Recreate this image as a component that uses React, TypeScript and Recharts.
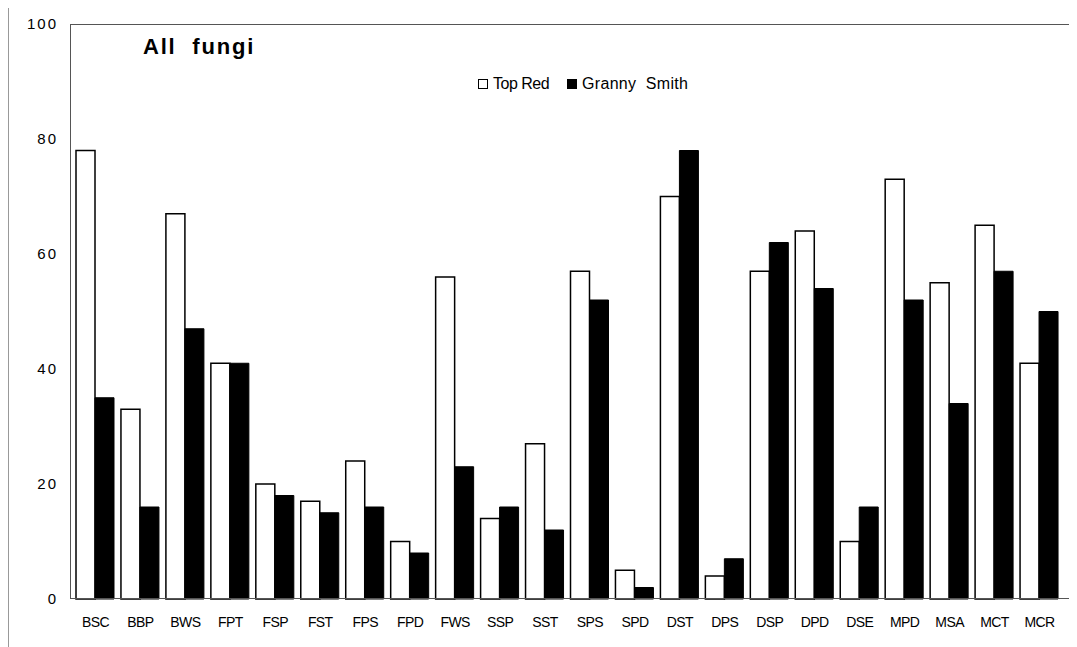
import { Bar, BarChart, XAxis, YAxis } from "recharts"

const categories = ["BSC", "BBP", "BWS", "FPT", "FSP", "FST", "FPS", "FPD", "FWS", "SSP", "SST", "SPS", "SPD", "DST", "DPS", "DSP", "DPD", "DSE", "MPD", "MSA", "MCT", "MCR"]
const topRed = [78, 33, 67, 41, 20, 17, 24, 10, 56, 14, 27, 57, 5, 70, 4, 57, 64, 10, 73, 55, 65, 41]
const grannySmith = [35, 16, 47, 41, 18, 15, 16, 8, 23, 16, 12, 52, 2, 78, 7, 62, 54, 16, 52, 34, 57, 50]
const yTicks = [0, 20, 40, 60, 80, 100]

const data = categories.map((name, i) => ({ name, topRed: topRed[i], granny: grannySmith[i] }))

const font = "'Liberation Sans', Arial, sans-serif"

function ChartLegend() {
  return (
    <div style={{ position: "absolute", left: 470, top: 67, display: "flex", alignItems: "center", fontFamily: font, fontSize: 16, color: "#000", whiteSpace: "pre" }}>
      <span style={{ display: "inline-block", width: 8, height: 8, border: "1.5px solid #000", background: "#fff", marginRight: 5 }} />
      <span style={{ letterSpacing: -0.5 }}>Top Red</span>
      <span style={{ display: "inline-block", width: 10, height: 10, background: "#000", marginLeft: 18, marginRight: 5 }} />
      <span style={{ letterSpacing: 0.3 }}>Granny  Smith</span>
    </div>
  )
}

export default function App() {
  return (
    <div style={{ position: "relative", width: 1069, height: 639, fontFamily: font }}>
      <div style={{ position: "absolute", left: 0, top: -1, width: 1069, height: 640, borderTop: "1px solid #999", borderLeft: "1px solid #999", pointerEvents: "none" }} />
      <BarChart width={1069} height={639} data={data} margin={{ top: 16, right: 4, bottom: 0, left: 0 }} barGap={0} barSize={19}>
        <XAxis
          dataKey="name"
          height={48}
          padding={{ left: 3, right: 11 }}
          axisLine={false}
          tickLine={false}
          tickSize={0}
          tickMargin={18}
          interval={0}
          tick={{ fill: "#000", fontSize: 14, letterSpacing: -0.6, fontFamily: font }}
        />
        <YAxis
          width={62}
          domain={[0, 100]}
          ticks={yTicks}
          axisLine={false}
          tickLine={false}
          tickSize={0}
          tickMargin={12}
          tick={{ fill: "#000", fontSize: 15, letterSpacing: 2, fontFamily: font }}
        />
        <Bar dataKey="topRed" name="Top Red" fill="#fff" stroke="#000" strokeWidth={1.5} isAnimationActive={false} />
        <Bar dataKey="granny" name="Granny Smith" fill="#000" stroke="#000" strokeWidth={1} isAnimationActive={false} />
      </BarChart>
      <div style={{ position: "absolute", left: 62, top: 16, width: 1003, height: 575, border: "1px solid #555", boxSizing: "border-box", pointerEvents: "none" }} />
      <div style={{ position: "absolute", left: 135, top: 26, fontSize: 22, fontWeight: "bold", letterSpacing: 1.8, whiteSpace: "pre", color: "#000" }}>All  fungi</div>
      <ChartLegend />
    </div>
  )
}
